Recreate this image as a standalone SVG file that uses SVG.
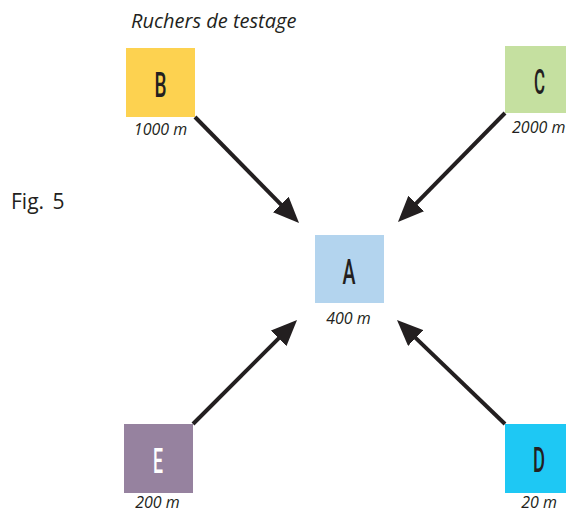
<svg xmlns="http://www.w3.org/2000/svg" width="566" height="512" viewBox="0 0 566 512">
<style>
.box{stroke:none}
.letter{font-family:Roboto,"Liberation Sans",sans-serif;font-size:35px;font-weight:500;fill:#231f20;text-anchor:middle}
.dist{font-family:"Open Sans","Noto Sans",sans-serif;font-size:16px;font-style:italic;fill:#231f20}
.title{font-family:"Open Sans","Noto Sans",sans-serif;font-size:20px;font-style:italic;fill:#231f20}
.fig{font-family:"Open Sans","Noto Sans",sans-serif;font-size:21px;fill:#231f20}
.conn{stroke:#231f20;stroke-width:4;fill:none;marker-end:url(#ah)}
</style>
<defs>
<marker id="ah" markerUnits="userSpaceOnUse" markerWidth="26" markerHeight="22" refX="6" refY="11" orient="auto">
<path d="M0,0 L26,11 L0,22 Z" fill="#231f20"/>
</marker>
</defs>
<rect width="566" height="512" fill="#ffffff"/>
<text class="title" x="131" y="28">Ruchers de testage</text>
<text class="fig" x="11" y="209" word-spacing="3">Fig. 5</text>
<g id="connectors">
<line class="conn" x1="195" y1="117" x2="285" y2="208.7"/>
<line class="conn" x1="505" y1="113" x2="412" y2="207.7"/>
<line class="conn" x1="193" y1="424" x2="282.9" y2="334.1"/>
<line class="conn" x1="505" y1="424" x2="411.4" y2="333.9"/>
</g>
<g id="node-B">
<rect class="box" x="126" y="48" width="69" height="69" fill="#fdd250"/>
<text class="letter" x="160.5" y="97" textLength="12" lengthAdjust="spacingAndGlyphs">B</text>
<text class="dist" x="160.5" y="135" text-anchor="middle">1000 m</text>
</g>
<g id="node-C">
<rect class="box" x="505" y="46" width="69" height="67" fill="#c5e0a0"/>
<text class="letter" x="539.5" y="94" textLength="11" lengthAdjust="spacingAndGlyphs">C</text>
<text class="dist" x="512" y="133">2000 m</text>
</g>
<g id="node-A">
<rect class="box" x="315" y="235" width="69" height="68" fill="#b3d4ee"/>
<text class="letter" x="349" y="284" textLength="13" lengthAdjust="spacingAndGlyphs">A</text>
<text class="dist" x="348.5" y="324" text-anchor="middle">400 m</text>
</g>
<g id="node-E">
<rect class="box" x="124" y="424" width="69" height="69" fill="#96829f"/>
<text class="letter" x="158" y="473" textLength="10" lengthAdjust="spacingAndGlyphs" style="fill:#ffffff">E</text>
<text class="dist" x="157.5" y="508" text-anchor="middle">200 m</text>
</g>
<g id="node-D">
<rect class="box" x="505" y="424" width="69" height="69" fill="#1ec8f4"/>
<text class="letter" x="539" y="472" textLength="12" lengthAdjust="spacingAndGlyphs">D</text>
<text class="dist" x="539" y="508" text-anchor="middle">20 m</text>
</g>
</svg>
